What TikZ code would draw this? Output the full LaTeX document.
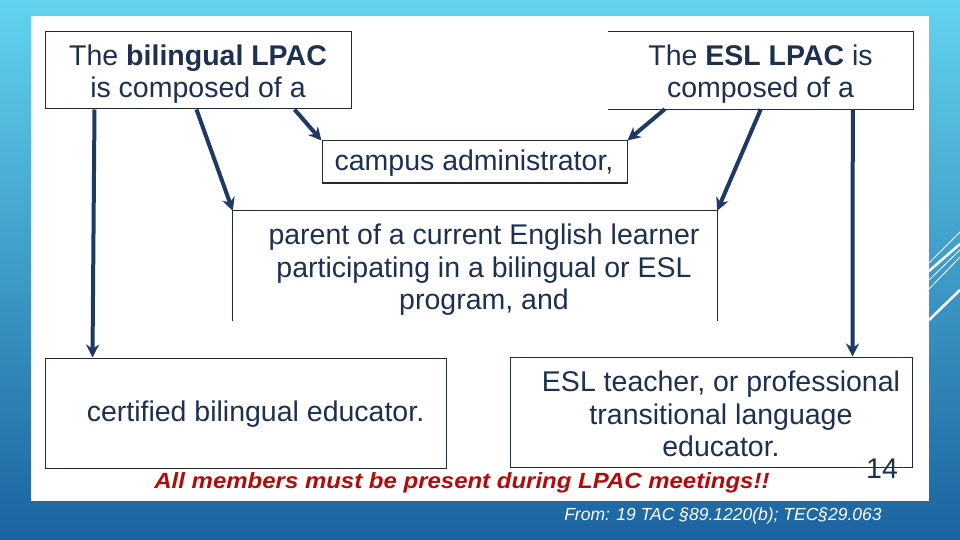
\documentclass[tikz,border=0pt]{standalone}
\usepackage{fontspec}
\setmainfont{Liberation Sans}
\usetikzlibrary{arrows.meta,calc}
\definecolor{navyline}{HTML}{1F3864}
\definecolor{navytext}{HTML}{1E3050}
\definecolor{boxline}{HTML}{1F2A3A}
\definecolor{bgtop}{HTML}{62D3EF}
\definecolor{bgbot}{HTML}{1B63A0}
\definecolor{redtext}{HTML}{B00C0C}
\tikzset{
  box/.style={rectangle, draw=boxline, line width=1pt, inner sep=0pt},
  openbox/.style={rectangle, inner sep=0pt},
  border/.style={draw=boxline, line width=1pt},
  txt/.style={text=navytext, font=\fontsize{28.5}{32.5}\selectfont, align=center, inner sep=0pt},
  arr/.style={draw=navyline, line width=4pt, -{Stealth[length=13pt,width=13pt]}},
  deco/.style={draw=white, line width=0.8pt},
  decothick/.style={draw=white, line width=2.5pt}
}
\begin{document}
\begin{tikzpicture}[x=1pt,y=-1pt]
\useasboundingbox (0,0) rectangle (960,540);
\shade[top color=bgtop, bottom color=bgbot] (0,0) rectangle (960,540);
% decorative lines
\draw[deco] (929,263) -- (960,232);
\draw[decothick] (929,271) -- (960,244);
\draw[deco] (929,280) -- (960,250);
\draw[deco] (929,289) -- (960,257);
\draw[decothick] (929,320) -- (960,290);
% white panel
\fill[white] (31,16) rectangle (929,501);

% boxes
\node[box, minimum width=306, minimum height=77] (bil) at (198,70.5) {};
\node[openbox, minimum width=305, minimum height=77] (esl) at (760.5,70.5) {};
\draw[border] (esl.north west) -- (esl.north east) -- (esl.south east) -- (esl.south west);
\node[box, minimum width=305, minimum height=42] (camp) at (474.5,162) {};
\node[openbox, minimum width=484, minimum height=110] (par) at (475,266) {};
\draw[border] (par.south west) -- (par.north west) -- (par.north east) -- (par.south east);
\node[box, minimum width=401, minimum height=110] (edu) at (245.5,413) {};
\node[box, minimum width=402, minimum height=110] (eslt) at (711,412) {};

% texts
\node[txt] (bilt) at (198,74) {The \textbf{bilingual LPAC}\\is composed of a};
\node[txt] (eslt1) at (760.5,74) {The \textbf{ESL LPAC} is\\composed of a};
\node[txt] (campt) at (474,163) {campus administrator,};
\node[txt] (part) at (484,270) {parent of a current English learner\\participating in a bilingual or ESL\\program, and};
\node[txt] (edut) at (255.5,414) {certified bilingual educator.};
\node[txt] (eslt2) at (721,414) {ESL teacher, or professional\\transitional language\\educator.};
\node[text=redtext, font=\fontsize{22}{24}\selectfont\bfseries\itshape, inner sep=0pt] (note) at (462,483) {\scalebox{1.09}[1]{All members must be present during LPAC meetings!!}};
\node[txt] (num) at (882,469) {14};
\node[text=white, font=\fontsize{17.5}{20}\selectfont\itshape, inner sep=0pt] (src) at (723,516) {From: 19 TAC §89.1220(b); TEC§29.063};

% arrows
\draw[arr] ([xshift=50]bil.south west) -- ([xshift=48]edu.north west);
\draw[arr] ([xshift=152]bil.south west) -- (par.north west);
\draw[arr] ([xshift=250]bil.south west) -- (camp.north west);
\draw[arr] ([xshift=57]esl.south west) -- (camp.north east);
\draw[arr] ([xshift=153]esl.south west) -- (par.north east);
\draw[arr] ([xshift=245]esl.south west) -- ([xshift=343]eslt.north west);
\end{tikzpicture}
\end{document}
